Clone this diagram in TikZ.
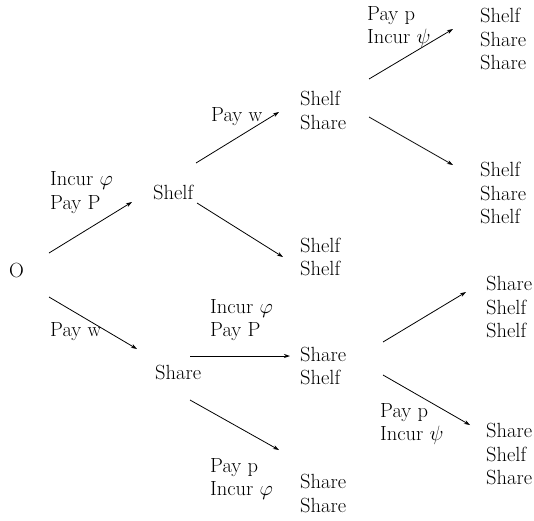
\documentclass[tikz,border=0pt]{standalone}
\usepackage{fontspec}
\newfontfamily\tnr{Liberation Serif}
\usetikzlibrary{arrows.meta}
\tikzset{
  lbl/.style={anchor=west, align=left, inner sep=0pt, font=\fontsize{20.5}{23.5}\selectfont},
  arr/.style={draw, line width=0.8pt, -{Stealth[length=6pt,width=4pt]}}
}
\begin{document}
\begin{tikzpicture}[x=1pt,y=-1pt]
\useasboundingbox (0,0) rectangle (534,520);
% nodes
\node[lbl] (o) at (9,270) {O};
\node[lbl] (l1) at (50,192.5) {Incur $\varphi$\\Pay P};
\node[lbl] (shelf) at (153,192) {Shelf};
\node[lbl] (l2) at (50,332) {Pay w};
\node[lbl] (share) at (155,372) {Share};
\node[lbl] (l3) at (211,117) {Pay w};
\node[lbl] (shsh) at (300,110.5) {Shelf\\Share};
\node[lbl] (shshelf) at (300,257) {Shelf\\Shelf};
\node[lbl] (l4) at (367,27) {Pay p\\Incur $\psi$};
\node[lbl] (t1) at (480,39) {Shelf\\Share\\Share};
\node[lbl] (t2) at (480,193) {Shelf\\Share\\Shelf};
\node[lbl] (l5) at (210,320) {Incur $\varphi$\\Pay P};
\node[lbl] (sash) at (300,366) {Share\\Shelf};
\node[lbl] (l6) at (210,479) {Pay p\\Incur $\varphi$};
\node[lbl] (sasa) at (300,493.5) {Share\\Share};
\node[lbl] (t3) at (486,307) {Share\\Shelf\\Shelf};
\node[lbl] (l7) at (380,424) {Pay p\\Incur $\psi$};
\node[lbl] (t4) at (486,454) {Share\\Shelf\\Share};
% arrow end points
\coordinate (a1s) at (49,253);  \coordinate (a1e) at (132,202);
\coordinate (a2s) at (49,297);  \coordinate (a2e) at (137,349);
\coordinate (a3s) at (196,163); \coordinate (a3e) at (279,112);
\coordinate (a4s) at (197,203); \coordinate (a4e) at (283,257);
\coordinate (a5s) at (369,79);  \coordinate (a5e) at (453,29);
\coordinate (a6s) at (369,117); \coordinate (a6e) at (453,165);
\coordinate (a7s) at (190,356); \coordinate (a7e) at (290,356);
\coordinate (a8s) at (190,400); \coordinate (a8e) at (279,450);
\coordinate (a9s) at (383,342); \coordinate (a9e) at (466,292);
\coordinate (a10s) at (383,375); \coordinate (a10e) at (470,425);
\draw[arr] (a1s) -- (a1e);
\draw[arr] (a2s) -- (a2e);
\draw[arr] (a3s) -- (a3e);
\draw[arr] (a4s) -- (a4e);
\draw[arr] (a5s) -- (a5e);
\draw[arr] (a6s) -- (a6e);
\draw[arr] (a7s) -- (a7e);
\draw[arr] (a8s) -- (a8e);
\draw[arr] (a9s) -- (a9e);
\draw[arr] (a10s) -- (a10e);
\end{tikzpicture}
\end{document}
